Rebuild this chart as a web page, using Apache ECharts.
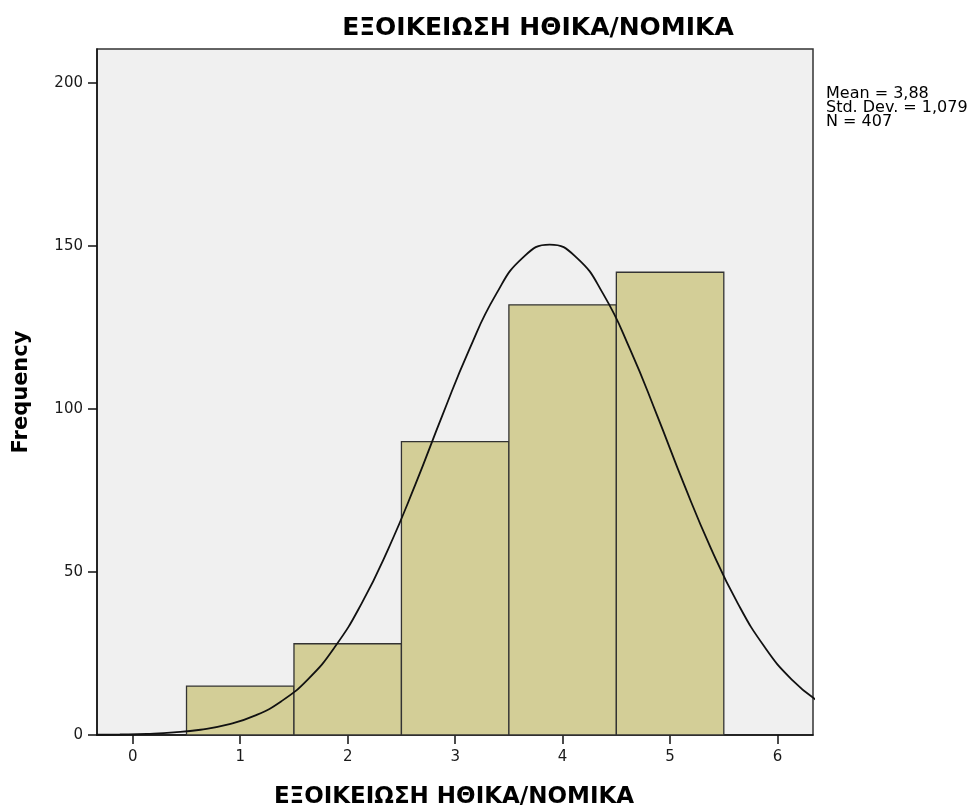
<!DOCTYPE html>
<html>
<head>
<meta charset="utf-8">
<script src="https://cdn.jsdelivr.net/npm/echarts@6/dist/echarts.min.js"></script>
<style>html,body{margin:0;padding:0;background:#fff}#c{width:973px;height:809px}</style>
</head>
<body>
<div id="c"></div>
<script>
// ---- data ----
var chartTitle = 'ΕΞΟΙΚΕΙΩΣΗ ΗΘΙΚΑ/ΝΟΜΙΚΑ';
var xName = 'ΕΞΟΙΚΕΙΩΣΗ ΗΘΙΚΑ/ΝΟΜΙΚΑ';
var yName = 'Frequency';
var statsLines = ['Mean = 3,88', 'Std. Dev. = 1,079', 'N = 407'];
var binStarts = [0.5, 1.5, 2.5, 3.5, 4.5];
var binEnds   = [1.5, 2.5, 3.5, 4.5, 5.5];
var counts    = [15, 28, 90, 132, 142];
var xTicks = [0, 1, 2, 3, 4, 5, 6];
var yTicks = [0, 50, 100, 150, 200];
// normal curve
var curveX = [-0.33, -0.12, 0.13, 0.38, 0.63, 0.88, 1.13, 1.38, 1.63, 1.88, 2.13, 2.38, 2.63, 2.88, 3.13, 3.38, 3.63, 3.88, 4.13, 4.38, 4.63, 4.88, 5.13, 5.38, 5.63, 5.88, 6.13, 6.38];
var curveY = [0.07, 0.16, 0.36, 0.78, 1.61, 3.15, 5.85, 10.3, 17.1, 27.0, 40.4, 57.3, 76.9, 98.0, 118.2, 135.2, 146.5, 150.5, 146.5, 135.2, 118.2, 98.0, 76.9, 57.3, 40.4, 27.0, 17.1, 10.3];

var bars = counts.map(function (c, i) { return [binStarts[i], binEnds[i], c]; });
var curve = curveX.map(function (x, i) { return [x, curveY[i]]; });

var chart = echarts.init(document.getElementById('c'), null, {renderer: 'canvas'});
var FONT = 'DejaVu Sans';
chart.setOption({
  animation: false,
  backgroundColor: '#ffffff',
  grid: {left: 97, top: 49, right: 160, bottom: 74, show: true, backgroundColor: '#f0f0f0', borderColor: '#333', borderWidth: 1.5},
  xAxis: {
    type: 'value', min: -0.333, max: 6.33,
    axisLine: {show: true, onZero: false, lineStyle: {color: '#111', width: 1.5}},
    axisTick: {show: true, length: 9, lineStyle: {color: '#111', width: 1.5}, customValues: xTicks},
    axisLabel: {color: '#1a1a1a', fontFamily: FONT, fontSize: 15, margin: 15, customValues: xTicks},
    splitLine: {show: false}
  },
  yAxis: {
    type: 'value', min: 0, max: 210.5,
    axisLine: {show: true, onZero: false, lineStyle: {color: '#111', width: 1.5}},
    axisTick: {show: true, length: 9, lineStyle: {color: '#111', width: 1.5}, customValues: yTicks},
    axisLabel: {color: '#1a1a1a', fontFamily: FONT, fontSize: 15, margin: 14, customValues: yTicks},
    splitLine: {show: false}
  },
  series: [
    {
      type: 'custom',
      data: bars,
      encode: {x: [0, 1], y: 2},
      renderItem: function (params, api) {
        var p0 = api.coord([api.value(0), api.value(2)]);
        var p1 = api.coord([api.value(1), 0]);
        return {
          type: 'rect',
          shape: {x: p0[0], y: p0[1], width: p1[0] - p0[0], height: p1[1] - p0[1]},
          style: {fill: '#d3ce97', stroke: '#333', lineWidth: 1.3}
        };
      },
      z: 2
    },
    {
      type: 'line', data: curve, smooth: 0.5, showSymbol: false, symbol: 'none',
      lineStyle: {color: '#111', width: 1.8}, clip: true, z: 3
    }
  ],
  graphic: [
    {type: 'text', x: 538, y: 28, style: {text: chartTitle, font: 'bold 25px "DejaVu Sans"', fill: '#000', align: 'center', verticalAlign: 'middle'}},
    {type: 'text', x: 454, y: 797, style: {text: xName, font: 'bold 23px "DejaVu Sans"', fill: '#000', align: 'center', verticalAlign: 'middle'}},
    {type: 'text', x: 22, y: 392, rotation: Math.PI / 2, style: {text: yName, font: 'bold 21px "DejaVu Sans"', fill: '#000', align: 'center', verticalAlign: 'middle'}},
    {type: 'text', x: 826, y: 87, style: {text: statsLines.join('\n'), font: '16px "DejaVu Sans"', lineHeight: 14, fill: '#000'}}
  ]
});
</script>
</body>
</html>
